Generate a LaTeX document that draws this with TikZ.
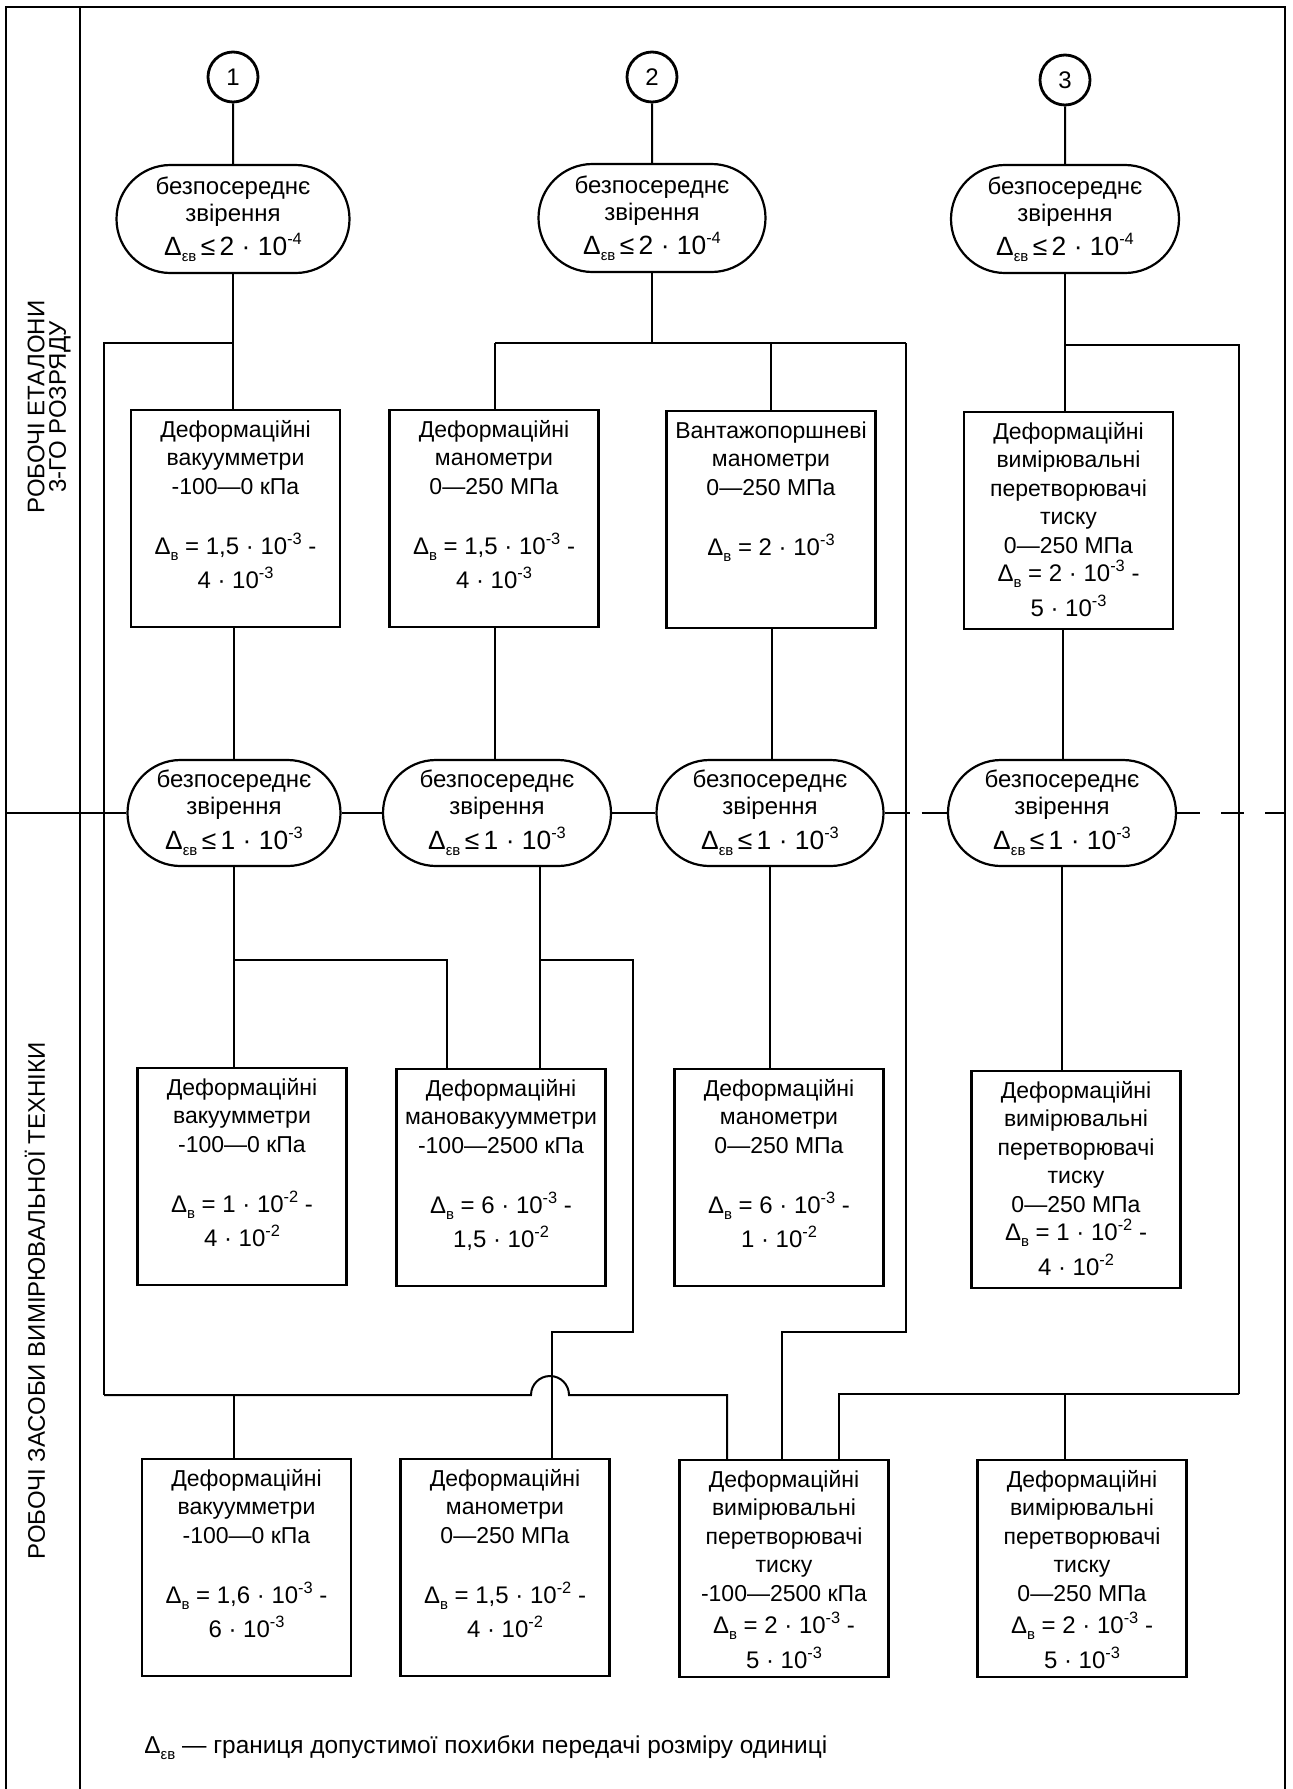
\documentclass[tikz,border=0pt]{standalone}
\usepackage{fontspec}
\setmainfont{Liberation Sans}
\usetikzlibrary{shapes.misc,calc}
\newcommand\sups[1]{\raisebox{0.78ex}{\fontsize{8.2}{8.2}\selectfont #1}}
\newcommand\subs[1]{\raisebox{-0.45ex}{\fontsize{7.5}{7.5}\selectfont #1}}
\newcommand\dl[1]{{\fontsize{12}{14.25}\selectfont #1}}
\newcommand\bx[1]{\parbox[c][108.5pt][t]{102pt}{\centering\fontsize{11.5}{14.25}\selectfont\rule{0pt}{13.5pt}#1}}
\newcommand\ov[1]{безпосереднє\\ звірення\\[2.5pt] {\fontsize{13.2}{15}\selectfont Δ\subs{εв}\,≤\,#1}}
\tikzset{
  frame/.style={line width=0.9pt},
  conn/.style={line width=1pt},
  num/.style={draw, circle, line width=1.4pt, minimum size=25pt, inner sep=0pt, font=\fontsize{12}{12}\selectfont},
  oval/.style={draw, rounded rectangle, line width=1.1pt, minimum width=116pt, minimum height=54pt, inner sep=1pt, align=center, font=\fontsize{12}{13.5}\selectfont},
  rect/.style={draw, rectangle, line width=1.1pt, minimum width=104.5pt, inner sep=0pt, anchor=north},
  lab/.style={rotate=90, font=\fontsize{12}{14}\selectfont},
}
\begin{document}
\begin{tikzpicture}[x=0.5pt,y=-0.5pt]
\useasboundingbox (0,0) rectangle (1292,1789);
% frame
\draw[frame] (6,1789) -- (6,7) -- (1285,7) -- (1285,1789);
\draw[frame] (80,7) -- (80,1789);
% side labels
\node[lab] (l1) at (36,407) {РОБОЧІ ЕТАЛОНИ};
\node[lab] (l2) at (60,407) {3-ГО РОЗРЯДУ};
\node[lab] (l3) at (35,1301) {РОБОЧІ ЗАСОБИ ВИМІРЮВАЛЬНОЇ ТЕХНІКИ};
% circles
\node[num] (c1) at (233,77) {1};
\node[num] (c2) at (652,77) {2};
\node[num] (c3) at (1065,80) {3};
% top ovals
\node[oval, minimum width=118.5pt] (o1) at (233,219) {\ov{2 · 10\sups{-4}}};
\node[oval, minimum width=115.5pt] (o2) at (652,218) {\ov{2 · 10\sups{-4}}};
\node[oval, minimum width=116pt] (o3) at (1065,219) {\ov{2 · 10\sups{-4}}};
% row B
\node[rect] (B1) at (235.5,409) {\bx{Деформаційні\\ вакуумметри\\ -100—0 кПа\\[16pt] \dl{Δ\subs{в} = 1,5 · 10\sups{-3} -}\\[2.5pt] \dl{4 · 10\sups{-3}}}};
\node[rect] (B2) at (494,409) {\bx{Деформаційні\\ манометри\\ 0—250 МПа\\[16pt] \dl{Δ\subs{в} = 1,5 · 10\sups{-3} -}\\[2.5pt] \dl{4 · 10\sups{-3}}}};
\node[rect] (B3) at (771,410) {\bx{Вантажопоршневі\\ манометри\\ 0—250 МПа\\[16pt] \dl{Δ\subs{в} = 2 · 10\sups{-3}}}};
\node[rect] (B4) at (1068.5,411) {\bx{Деформаційні\\ вимірювальні\\ перетворювачі\\ тиску\\ 0—250 МПа\\ \dl{Δ\subs{в} = 2 · 10\sups{-3} -}\\[3pt] \dl{5 · 10\sups{-3}}}};
% middle ovals
\node[oval, minimum width=108.5pt, minimum height=53pt] (m1) at (234,813) {\ov{1 · 10\sups{-3}}};
\node[oval, minimum height=53pt] (m2) at (497,813) {\ov{1 · 10\sups{-3}}};
\node[oval, minimum width=115.5pt, minimum height=53pt] (m3) at (770,813) {\ov{1 · 10\sups{-3}}};
\node[oval, minimum height=53pt] (m4) at (1062,813) {\ov{1 · 10\sups{-3}}};
% row C
\node[rect] (C1) at (242,1067) {\bx{Деформаційні\\ вакуумметри\\ -100—0 кПа\\[16pt] \dl{Δ\subs{в} = 1 · 10\sups{-2} -}\\[2.5pt] \dl{4 · 10\sups{-2}}}};
\node[rect] (C2) at (501,1068) {\bx{Деформаційні\\ мановакуумметри\\ -100—2500 кПа\\[16pt] \dl{Δ\subs{в} = 6 · 10\sups{-3} -}\\[2.5pt] \dl{1,5 · 10\sups{-2}}}};
\node[rect] (C3) at (779,1068) {\bx{Деформаційні\\ манометри\\ 0—250 МПа\\[16pt] \dl{Δ\subs{в} = 6 · 10\sups{-3} -}\\[2.5pt] \dl{1 · 10\sups{-2}}}};
\node[rect] (C4) at (1076,1070) {\bx{Деформаційні\\ вимірювальні\\ перетворювачі\\ тиску\\ 0—250 МПа\\ \dl{Δ\subs{в} = 1 · 10\sups{-2} -}\\[3pt] \dl{4 · 10\sups{-2}}}};
% row D
\node[rect] (D1) at (246.5,1458) {\bx{Деформаційні\\ вакуумметри\\ -100—0 кПа\\[16pt] \dl{Δ\subs{в} = 1,6 · 10\sups{-3} -}\\[2.5pt] \dl{6 · 10\sups{-3}}}};
\node[rect] (D2) at (505,1458) {\bx{Деформаційні\\ манометри\\ 0—250 МПа\\[16pt] \dl{Δ\subs{в} = 1,5 · 10\sups{-2} -}\\[2.5pt] \dl{4 · 10\sups{-2}}}};
\node[rect] (D3) at (784,1459) {\bx{Деформаційні\\ вимірювальні\\ перетворювачі\\ тиску\\ -100—2500 кПа\\[2pt] \dl{Δ\subs{в} = 2 · 10\sups{-3} -}\\[3pt] \dl{5 · 10\sups{-3}}}};
\node[rect] (D4) at (1082,1459) {\bx{Деформаційні\\ вимірювальні\\ перетворювачі\\ тиску\\ 0—250 МПа\\[2pt] \dl{Δ\subs{в} = 2 · 10\sups{-3} -}\\[3pt] \dl{5 · 10\sups{-3}}}};
% legend
\node[anchor=west, inner sep=0pt, font=\fontsize{12.2}{14}\selectfont] (leg) at (144,1748) {Δ\subs{εв} — границя допустимої похибки передачі розміру одиниці};
% junction coordinates
\coordinate (j1) at (233,343);
\coordinate (j1l) at (104,343);
\coordinate (busL) at (104,1395);
\coordinate (j2) at (652,343);
\coordinate (j2l) at (495,343);
\coordinate (j2m) at (771,343);
\coordinate (j2r) at (906,343);
\coordinate (k2) at (906,1332);
\coordinate (k2l) at (782,1332);
\coordinate (j3) at (1065,345);
\coordinate (j3r) at (1239,345);
\coordinate (busR) at (1239,1394);
\coordinate (n1) at (234,960);
\coordinate (n1r) at (447,960);
\coordinate (n2) at (540,960);
\coordinate (n2r) at (633,960);
\coordinate (k1) at (633,1332);
\coordinate (k1l) at (552,1332);
% connectors top
\draw[conn] (c1) -- (o1);
\draw[conn] (c2) -- (o2);
\draw[conn] (c3) -- (o3);
\draw[conn] (o1.south) -- (B1.north -| o1.south);
\draw[conn] (j1) -- (j1l) -- (busL);
\draw[conn] (o2.south) -- (j2);
\draw[conn] (j2l) -- (j2r);
\draw[conn] (j2l) -- (B2.north -| j2l);
\draw[conn] (j2m) -- (B3.north -| j2m);
\draw[conn] (j2r) -- (k2) -- (k2l) -- (D3.north -| k2l);
\draw[conn] (o3.south) -- (B4.north -| o3.south);
\draw[conn] (j3) -- (j3r) -- (busR);
% row B to middle ovals
\draw[conn] (B1.south -| m1.north) -- (m1.north);
\draw[conn] (B2.south -| j2l) -- (m2.north -| j2l);
\draw[conn] (B3.south -| 772,0) -- (m3.north -| 772,0);
\draw[conn] (B4.south -| 1063,0) -- (m4.north -| 1063,0);
% middle horizontal line
\draw[conn] (6,813) -- (m1.west);
\draw[conn] (m1.east) -- (m2.west);
\draw[conn] (m2.east) -- (m3.west);
\draw[conn, dash pattern=on 12.5pt off 6pt on 14pt off 50pt] (m3.east) -- (m4.west);
\draw[conn, dash pattern=on 11.5pt off 10.5pt] (m4.east) -- (1285,813);
% middle ovals to row C
\draw[conn] (m1.south) -- (C1.north -| m1.south);
\draw[conn] (n1) -- (n1r) -- (C2.north -| n1r);
\draw[conn] (m2.south -| n2) -- (C2.north -| n2);
\draw[conn] (n2) -- (n2r) -- (k1) -- (k1l) -- (D2.north -| k1l);
\draw[conn] (m3.south) -- (C3.north -| m3.south);
\draw[conn] (m4.south) -- (C4.north -| m4.south);
% buses to row D
\draw[conn] (busL) -- (531,1395) arc[start angle=180, end angle=0, radius=9.5pt] -- (727,1395) -- (D3.north -| 727,0);
\draw[conn] (234,1395) -- (D1.north -| 234,0);
\draw[conn] (busR) -- (839,1394) -- (D3.north -| 839,0);
\draw[conn] (1065,1394) -- (D4.north -| 1065,0);
\end{tikzpicture}
\end{document}
